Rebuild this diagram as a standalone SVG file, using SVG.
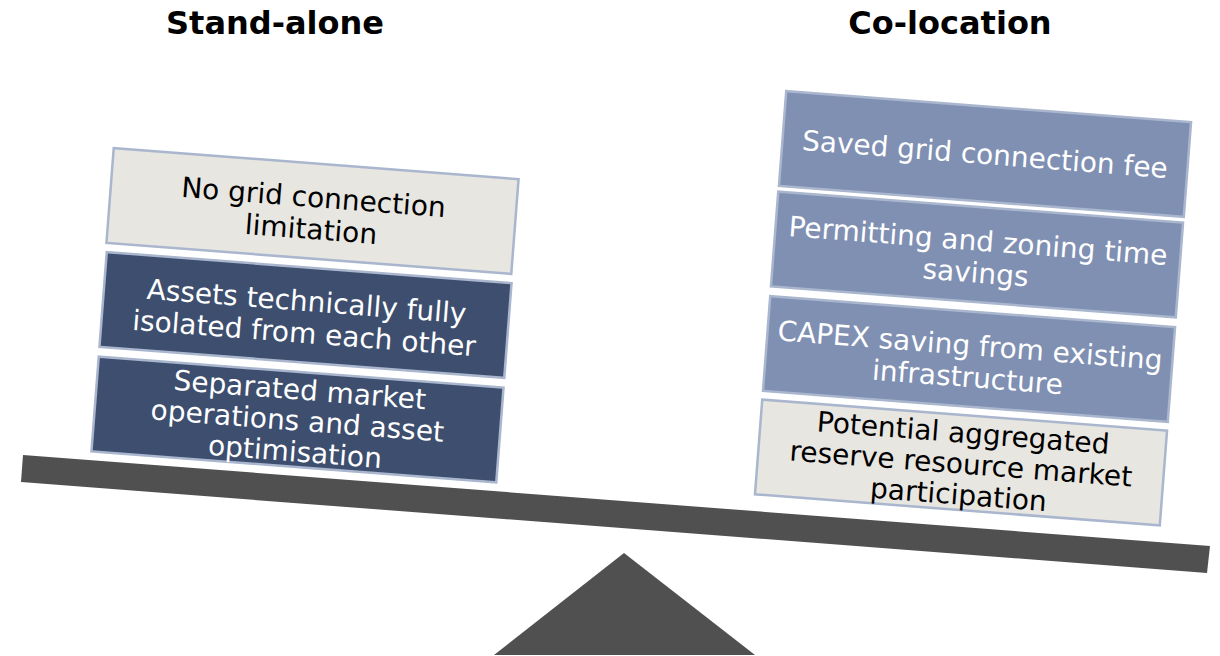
<svg xmlns="http://www.w3.org/2000/svg" width="1220" height="656" viewBox="0 0 1220 656">
<style>
.title{font-family:"DejaVu Sans",Verdana,sans-serif;font-weight:bold;font-size:32px;fill:#000;text-anchor:middle}
.box{stroke:#A9B6CE;stroke-width:2.5}
.light{fill:#E8E6E0}
.dark{fill:#3D4E6E}
.mid{fill:#7F90B3}
.t{font-family:"DejaVu Sans",Verdana,sans-serif;font-size:28px;text-anchor:middle}
.tw{fill:#fff}
.tb{fill:#000}
.scale{fill:#505050}
</style>
<rect width="1220" height="656" fill="#fff"/>
<text class="title" x="275" y="34">Stand-alone</text>
<text class="title" x="950" y="34">Co-location</text>
<g id="scale">
<polygon class="scale" points="23,455 1210,546 1207,573 21,482"/>
<polygon class="scale" points="624,553 755,655 494,655"/>
</g>
<g id="n-no-grid" transform="translate(312.5,211) rotate(4.4)">
<rect class="box light" x="-203" y="-47.5" width="406" height="95"/>
<text class="t tb"><tspan x="0" y="-4">No grid connection</tspan><tspan x="0" y="28">limitation</tspan></text>
</g>
<g id="n-assets" transform="translate(305.5,315) rotate(4.4)">
<rect class="box dark" x="-203" y="-47.5" width="406" height="95"/>
<text class="t tw"><tspan x="0" y="-4">Assets technically fully</tspan><tspan x="0" y="28">isolated from each other</tspan></text>
</g>
<g id="n-separated" transform="translate(297.5,419.5) rotate(4.4)">
<rect class="box dark" x="-203" y="-47.5" width="406" height="95"/>
<text class="t tw"><tspan x="0" y="-20">Separated market</tspan><tspan x="0" y="11">operations and asset</tspan><tspan x="0" y="42">optimisation</tspan></text>
</g>
<g id="n-saved" transform="translate(985,154) rotate(4.4)">
<rect class="box mid" x="-203" y="-47.5" width="406" height="95"/>
<text class="t tw"><tspan x="0" y="10">Saved grid connection fee</tspan></text>
</g>
<g id="n-permitting" transform="translate(977,254.5) rotate(4.4)">
<rect class="box mid" x="-203" y="-47.5" width="406" height="95"/>
<text class="t tw"><tspan x="0" y="-4">Permitting and zoning time</tspan><tspan x="0" y="28">savings</tspan></text>
</g>
<g id="n-capex" transform="translate(969,359) rotate(4.4)">
<rect class="box mid" x="-203" y="-47.5" width="406" height="95"/>
<text class="t tw"><tspan x="0" y="-4">CAPEX saving from existing</tspan><tspan x="0" y="28">infrastructure</tspan></text>
</g>
<g id="n-potential" transform="translate(961,462.5) rotate(4.4)">
<rect class="box light" x="-203" y="-47.5" width="406" height="95"/>
<text class="t tb"><tspan x="0" y="-20">Potential aggregated</tspan><tspan x="0" y="11">reserve resource market</tspan><tspan x="0" y="42">participation</tspan></text>
</g>
<g id="connectors"/>
</svg>
